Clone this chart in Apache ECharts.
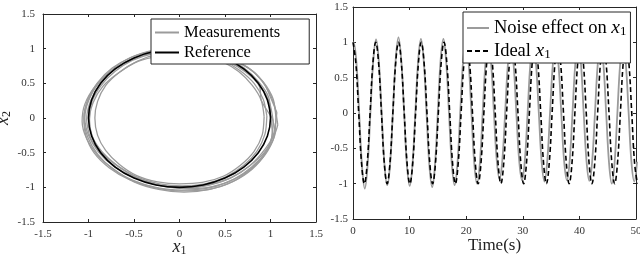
<!DOCTYPE html>
<html><head><meta charset="utf-8">
<script src="https://cdn.jsdelivr.net/npm/echarts@6/dist/echarts.min.js"></script>
<style>html,body{margin:0;padding:0;background:#fff}#c{width:640px;height:259px}</style>
</head><body><div id="c"></div>
<script>
// ---- Left panel: phase plane (x1, x2) ----
const refLoop = [[1,0],[0.966,0.259],[0.866,0.5],[0.707,0.707],[0.5,0.866],[0.259,0.966],[0,1],[-0.259,0.966],[-0.5,0.866],[-0.707,0.707],[-0.866,0.5],[-0.966,0.259],[-1,0],[-0.966,-0.259],[-0.866,-0.5],[-0.707,-0.707],[-0.5,-0.866],[-0.259,-0.966],[0,-1],[0.259,-0.966],[0.5,-0.866],[0.707,-0.707],[0.866,-0.5],[0.966,-0.259],[1,0],[0.966,0.259]];
const measLoop1 = [[1.06,0.0],[1.03,0.27],[0.92,0.52],[0.75,0.73],[0.52,0.88],[0.27,0.97],[0.0,1.0],[-0.27,0.97],[-0.52,0.88],[-0.74,0.72],[-0.9,0.51],[-1.01,0.26],[-1.05,0.0],[-1.01,-0.27],[-0.9,-0.52],[-0.73,-0.74],[-0.51,-0.9],[-0.26,-1.0],[0.02,-1.04],[0.28,-1.02],[0.54,-0.92],[0.77,-0.75],[0.94,-0.53],[1.04,-0.27],[1.06,0.0]];
const measLoop2 = [[0.93,0.02],[0.9,0.25],[0.8,0.47],[0.65,0.67],[0.46,0.82],[0.24,0.92],[0.0,0.95],[-0.24,0.92],[-0.46,0.82],[-0.66,0.66],[-0.81,0.47],[-0.9,0.24],[-0.93,0.0],[-0.9,-0.25],[-0.81,-0.47],[-0.66,-0.67],[-0.47,-0.83],[-0.24,-0.92],[0.0,-0.95],[0.25,-0.93],[0.48,-0.84],[0.67,-0.68],[0.82,-0.48],[0.91,-0.24],[0.93,0.02]];
const measLoop3 = [[1.08,-0.1],[1.04,0.2],[0.95,0.45],[0.8,0.68],[0.58,0.84],[0.3,0.95],[0.02,0.98],[-0.25,0.95],[-0.5,0.86],[-0.72,0.7],[-0.88,0.48],[-0.98,0.24],[-1.02,-0.02],[-0.98,-0.28],[-0.86,-0.52],[-0.68,-0.73],[-0.46,-0.88],[-0.2,-0.98],[0.06,-1.01],[0.32,-0.97],[0.57,-0.86],[0.78,-0.68],[0.94,-0.45],[1.05,-0.22],[1.08,-0.1]];
const measLoop4 = [[1.02,0.0],[0.9,0.25],[0.88,0.45],[0.76,0.66],[0.55,0.8],[0.3,0.9],[0.05,0.94],[-0.2,0.9],[-0.45,0.82],[-0.66,0.66],[-0.84,0.46],[-0.95,0.22],[-0.99,-0.04],[-0.95,-0.3],[-0.83,-0.53],[-0.64,-0.73],[-0.42,-0.89],[-0.16,-0.99],[0.1,-1.02],[0.36,-0.99],[0.6,-0.88],[0.8,-0.7],[0.96,-0.47],[1.05,-0.22],[1.02,0.0]];
const measLoop5 = [[1.0,0.05],[0.98,0.3],[0.87,0.52],[0.71,0.72],[0.5,0.87],[0.25,0.98],[-0.02,1.01],[-0.28,0.98],[-0.54,0.87],[-0.75,0.69],[-0.92,0.47],[-1.04,0.2],[-1.07,-0.05],[-1.02,-0.3],[-0.9,-0.54],[-0.72,-0.74],[-0.5,-0.92],[-0.23,-1.03],[0.05,-1.07],[0.33,-1.03],[0.58,-0.92],[0.8,-0.72],[0.96,-0.48],[1.02,-0.22],[1.0,0.05]];
const measLoop6 = [[0.96,0.03],[0.92,0.27],[0.82,0.5],[0.66,0.69],[0.46,0.84],[0.22,0.94],[-0.04,0.97],[-0.29,0.93],[-0.52,0.83],[-0.71,0.67],[-0.86,0.47],[-0.96,0.24],[-0.99,-0.01],[-0.96,-0.26],[-0.85,-0.49],[-0.68,-0.69],[-0.47,-0.85],[-0.22,-0.95],[0.03,-0.98],[0.28,-0.95],[0.51,-0.85],[0.7,-0.69],[0.85,-0.48],[0.94,-0.23],[0.96,0.03]];
const measLoop7 = [[1.07,0.08],[1.0,0.3],[0.93,0.5],[0.78,0.7],[0.54,0.85],[0.28,0.93],[0.01,0.96],[-0.26,0.94],[-0.52,0.85],[-0.73,0.69],[-0.9,0.49],[-1.0,0.25],[-1.04,0.0],[-1.0,-0.25],[-0.89,-0.49],[-0.72,-0.7],[-0.5,-0.86],[-0.25,-0.96],[0.02,-0.99],[0.29,-0.97],[0.55,-0.87],[0.76,-0.7],[0.93,-0.5],[1.03,-0.25],[1.07,0.08]];
const measLoop8 = [[1.03,-0.05],[0.99,0.22],[0.89,0.46],[0.73,0.66],[0.52,0.82],[0.27,0.93],[0.01,0.97],[-0.25,0.95],[-0.5,0.86],[-0.71,0.71],[-0.89,0.5],[-1.0,0.26],[-1.05,0.01],[-1.03,-0.25],[-0.94,-0.5],[-0.77,-0.72],[-0.55,-0.89],[-0.29,-1.0],[-0.01,-1.05],[0.27,-1.04],[0.53,-0.95],[0.75,-0.79],[0.92,-0.56],[1.01,-0.3],[1.03,-0.05]];

// ---- Right panel: time series ----
const noiseT = [0,0.1,0.60,1.09,1.59,2.08,2.58,3.08,3.57,4.07,4.56,5.06,5.55,6.05,6.55,7.04,7.54,8.03,8.53,9.03,9.52,10.02,10.51,11.01,11.51,12.00,12.50,12.99,13.49,13.99,14.48,14.98,15.47,15.97,16.46,16.96,17.46,17.95,18.45,18.94,19.44,19.94,20.43,20.93,21.42,21.92,22.42,22.91,23.41,23.90,24.40,24.90,25.39,25.89,26.38,26.88,27.37,27.87,28.37,28.86,29.36,29.85,30.35,30.85,31.34,31.84,32.33,32.83,33.33,33.82,34.32,34.81,35.31,35.80,36.30,36.80,37.29,37.79,38.28,38.78,39.28,39.77,40.27,40.76,41.26,41.76,42.25,42.75,43.24,43.74,44.23,44.73,45.23,45.72,46.22,46.71,47.21,47.71,48.20,48.70,49.19,49.69,50.19];
const noiseX = [0.99,1.0,0.72,0.0,-0.75,-1.07,-0.74,0.01,0.73,1.04,0.74,0.0,-0.72,-1.02,-0.73,0.0,0.75,1.07,0.75,0.01,-0.73,-1.03,-0.73,0.0,0.74,1.05,0.74,0.0,-0.74,-1.05,-0.74,0.0,0.74,1.05,0.73,0.0,-0.72,-1.02,-0.72,0.0,0.72,1.02,0.71,0.0,-0.71,-1.0,-0.7,0.0,0.71,1.0,0.7,0.0,-0.66,-0.93,-0.67,0.0,0.69,0.98,0.69,0.0,-0.67,-0.95,-0.68,0.0,0.7,1.0,0.7,0.0,-0.69,-0.97,-0.68,0.0,0.69,0.98,0.69,0.0,-0.67,-0.95,-0.68,0.0,0.7,1.0,0.7,0.0,-0.68,-0.96,-0.69,0.0,0.69,0.98,0.7,0.0,-0.7,-1.0,-0.7,0.0,0.7,1.0,0.7,0.0,-0.69,-0.97,-0.69];
const idealT = [0,0.50,1.01,1.51,2.01,2.51,3.02,3.52,4.02,4.52,5.03,5.53,6.03,6.53,7.04,7.54,8.04,8.54,9.05,9.55,10.05,10.55,11.06,11.56,12.06,12.56,13.07,13.57,14.07,14.57,15.08,15.58,16.08,16.58,17.09,17.59,18.09,18.59,19.10,19.60,20.10,20.60,21.11,21.61,22.11,22.61,23.12,23.62,24.12,24.62,25.13,25.63,26.13,26.63,27.14,27.64,28.14,28.64,29.15,29.65,30.15,30.65,31.16,31.66,32.16,32.66,33.17,33.67,34.17,34.67,35.18,35.68,36.18,36.68,37.19,37.69,38.19,38.69,39.20,39.70,40.20,40.70,41.21,41.71,42.21,42.71,43.22,43.72,44.22,44.72,45.23,45.73,46.23,46.73,47.24,47.74,48.24,48.74,49.25,49.75,50.25];
const idealX = [1,0.71,0,-0.71,-1,-0.71,0,0.71,1,0.71,0,-0.71,-1,-0.71,0,0.71,1,0.71,0,-0.71,-1,-0.71,0,0.71,1,0.71,0,-0.71,-1,-0.71,0,0.71,1,0.71,0,-0.71,-1,-0.71,0,0.71,1,0.71,0,-0.71,-1,-0.71,0,0.71,1,0.71,0,-0.71,-1,-0.71,0,0.71,1,0.71,0,-0.71,-1,-0.71,0,0.71,1,0.71,0,-0.71,-1,-0.71,0,0.71,1,0.71,0,-0.71,-1,-0.71,0,0.71,1,0.71,0,-0.71,-1,-0.71,0,0.71,1,0.71,0,-0.71,-1,-0.71,0,0.71,1,0.71,0,-0.71,-1];

const FONT = 'Liberation Serif';
const AX = '#262626';
const zip = (a, b) => a.map((v, i) => [v, b[i]]);

const rich = {
  n: {fontFamily: FONT, fontSize: 18.5, color: '#000', lineHeight: 20},
  i: {fontFamily: FONT, fontSize: 19.5, fontStyle: 'italic', color: '#000', lineHeight: 20},
  s: {fontFamily: FONT, fontSize: 13, color: '#000', lineHeight: 20, padding: [7, 0, 0, 0]}
};
const nameRich = {
  i: {fontFamily: FONT, fontSize: 18, fontStyle: 'italic', color: '#222'},
  s: {fontFamily: FONT, fontSize: 12, color: '#222', padding: [8, 0, 0, 0]}
};

function mkX(grid, min, max, interval, pos, main, name, gap) {
  return {
    type: 'value', gridIndex: grid, min, max, interval, position: pos,
    axisLine: {show: true, onZero: false, lineStyle: {color: AX, width: 1}},
    axisTick: {show: true, inside: true, length: 3, lineStyle: {color: AX}},
    axisLabel: {show: main, fontFamily: FONT, fontSize: 11, color: '#333', margin: 7},
    splitLine: {show: false},
    name: main ? name : '', nameLocation: 'middle', nameGap: gap, nameMoveOverlap: false,
    nameTextStyle: {fontFamily: FONT, fontSize: 17, color: '#222', rich: nameRich}
  };
}
function mkY(grid, pos, main, name, margin) {
  return {
    type: 'value', gridIndex: grid, min: -1.5, max: 1.5, interval: 0.5, position: pos,
    axisLine: {show: true, onZero: false, lineStyle: {color: AX, width: 1}},
    axisTick: {show: true, inside: true, length: 3, lineStyle: {color: AX}},
    axisLabel: {show: main, fontFamily: FONT, fontSize: 11, color: '#333', margin: margin},
    splitLine: {show: false},
    name: main ? name : '', nameLocation: 'middle', nameGap: 30, nameRotate: 90,
    nameTextStyle: {fontFamily: FONT, fontSize: 17, color: '#222', rich: nameRich}
  };
}

const gray = '#9b9b9b';
const measSeries = [measLoop1, measLoop2, measLoop3, measLoop4, measLoop5, measLoop6, measLoop7, measLoop8].map(d => ({
  name: 'Measurements', type: 'line', xAxisIndex: 0, yAxisIndex: 0, data: d,
  symbol: 'none', smooth: 0.25, lineStyle: {color: gray, width: 1.3}, itemStyle: {color: gray}, z: 2
}));

const hiddenSym = {color: 'rgba(0,0,0,0)', borderColor: 'rgba(0,0,0,0)', borderWidth: 0};

const option = {
  animation: false,
  backgroundColor: '#fff',
  grid: [
    {left: 43, top: 14, width: 273, height: 208, show: false, containLabel: false, outerBoundsMode: 'none'},
    {left: 353, top: 7, width: 283, height: 212, show: false, containLabel: false, outerBoundsMode: 'none'}
  ],
  xAxis: [
    mkX(0, -1.5, 1.5, 0.5, 'bottom', true, '{i|x}{s|1}', 15),
    mkX(0, -1.5, 1.5, 0.5, 'top', false, '', 0),
    mkX(1, 0, 50, 10, 'bottom', true, 'Time(s)', 18),
    mkX(1, 0, 50, 10, 'top', false, '', 0)
  ],
  yAxis: [
    mkY(0, 'left', true, '{i|x}{s|2}', 8),
    mkY(0, 'right', false, '', 8),
    mkY(1, 'left', true, '', 5),
    mkY(1, 'right', false, '', 5)
  ],
  legend: [
    {
      data: ['Measurements', 'Reference'], orient: 'vertical', left: 151, top: 19,
      backgroundColor: '#fff', borderColor: AX, borderWidth: 1, borderRadius: 0,
      padding: [5, 29, 3, 3], itemWidth: 24, itemHeight: 16, itemGap: 3,
      itemStyle: hiddenSym,
      textStyle: {fontFamily: FONT, fontSize: 16.5, color: '#000'}, selectedMode: false
    },
    {
      data: ['Noise effect on x1', 'Ideal x1'], orient: 'vertical', left: 463, top: 12,
      backgroundColor: '#fff', borderColor: AX, borderWidth: 1, borderRadius: 0,
      padding: [6, 4, 2, 3], itemWidth: 22, itemHeight: 16, itemGap: 3,
      itemStyle: hiddenSym,
      textStyle: {fontFamily: FONT, fontSize: 18.5, color: '#000', rich: rich}, selectedMode: false,
      formatter: function (n) {
        return n === 'Ideal x1' ? '{n|Ideal }{i|x}{s|1}' : '{n|Noise effect on }{i|x}{s|1}';
      }
    }
  ],
  series: measSeries.concat([
    {name: 'Reference', type: 'line', xAxisIndex: 0, yAxisIndex: 0, data: refLoop,
     symbol: 'none', smooth: 0.4, lineStyle: {color: '#000', width: 1.6}, itemStyle: {color: '#000'}, z: 3},
    {name: 'Noise effect on x1', type: 'line', xAxisIndex: 2, yAxisIndex: 2, data: zip(noiseT, noiseX),
     symbol: 'none', smooth: 0.4, lineStyle: {color: gray, width: 1.8}, itemStyle: {color: gray}, z: 2},
    {name: 'Ideal x1', type: 'line', xAxisIndex: 2, yAxisIndex: 2, data: zip(idealT, idealX),
     symbol: 'none', smooth: 0.4, lineStyle: {color: '#000', width: 1.6, type: [5, 3]}, itemStyle: {color: '#000'}, z: 3}
  ])
};
const chart = echarts.init(document.getElementById('c'), null, {renderer: 'canvas'});
chart.setOption(option);
</script></body></html>
